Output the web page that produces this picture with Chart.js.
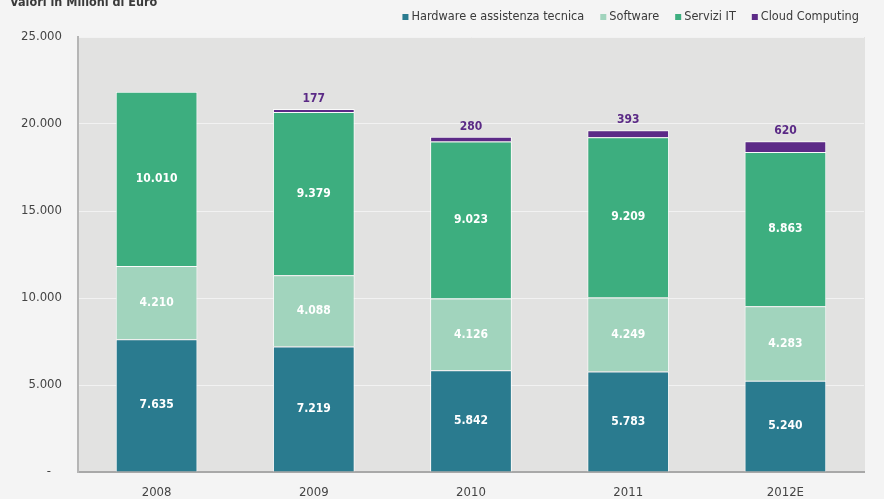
<!DOCTYPE html>
<html>
<head>
<meta charset="utf-8">
<script src="https://cdn.jsdelivr.net/npm/chart.js@4.4.1/dist/chart.umd.min.js"></script>
<style>
  html, body { margin: 0; padding: 0; background: #f4f4f4; }
  #wrap { width: 884px; height: 499px; }
</style>
</head>
<body>
<div id="wrap"><canvas id="itChart" width="884" height="499"></canvas></div>
<script>
// Mercato IT - valori in milioni di euro
const years = ['2008', '2009', '2010', '2011', '2012E'];
const hardware = [7635, 7219, 5842, 5783, 5240];
const software = [4210, 4088, 4126, 4249, 4283];
const serviziIT = [10010, 9379, 9023, 9209, 8863];
const cloud = [null, 177, 280, 393, 620];
const yTicks = [0, 5000, 10000, 15000, 20000, 25000];

const FONT = "'Liberation Sans Narrow', 'DejaVu Sans Condensed', 'Liberation Sans', sans-serif";

function fmt(v) {
    return v.toString().replace(/\B(?=(\d{3})+(?!\d))/g, '.');
}

// gray plot background, title and legend
const backdrop = {
    id: 'backdrop',
    beforeDraw(chart) {
        const { ctx, chartArea: a } = chart;
        ctx.save();
        ctx.fillStyle = '#f4f4f4';
        ctx.fillRect(0, 0, chart.width, chart.height);
        ctx.fillStyle = '#e2e2e1';
        ctx.fillRect(a.left, a.top, a.right - a.left + 1, a.bottom - a.top);

        ctx.fillStyle = '#3a3a3a';
        ctx.font = 'bold 12.5px ' + FONT;
        ctx.textBaseline = 'middle';
        ctx.fillText('Valori in Milioni di Euro', 10, 3);

        // legend, right aligned
        ctx.font = '12.6px ' + FONT;
        let x = 859;
        const items = chart.data.datasets.slice().reverse();
        items.forEach(ds => {
            const w = ctx.measureText(ds.label).width;
            ctx.fillStyle = '#3a3a3a';
            ctx.textAlign = 'left';
            ctx.fillText(ds.label, x - w, 17);
            ctx.fillStyle = ds.backgroundColor;
            ctx.fillRect(x - w - 9, 14, 6, 6);
            x = x - w - 9 - 16;
        });
        ctx.restore();
    }
};

// value labels inside / above the bars
const valueLabels = {
    id: 'valueLabels',
    afterDatasetsDraw(chart) {
        const { ctx } = chart;
        ctx.save();
        ctx.textAlign = 'center';
        ctx.font = 'bold 12px ' + FONT;
        chart.data.datasets.forEach((ds, i) => {
            const meta = chart.getDatasetMeta(i);
            meta.data.forEach((bar, j) => {
                const v = ds.data[j];
                if (v == null) return;
                if (i < 3) {
                    ctx.fillStyle = '#ffffff';
                    ctx.textBaseline = 'middle';
                    ctx.fillText(fmt(v), bar.x, (bar.y + bar.base) / 2);
                } else {
                    ctx.fillStyle = '#5b2a86';
                    ctx.textBaseline = 'bottom';
                    ctx.fillText(fmt(v), bar.x, bar.y - 4);
                }
            });
        });
        ctx.restore();
    }
};

new Chart(document.getElementById('itChart'), {
    type: 'bar',
    data: {
        labels: years,
        datasets: [
            { label: 'Hardware e assistenza tecnica', data: hardware, backgroundColor: '#2a7b8f' },
            { label: 'Software', data: software, backgroundColor: '#a1d4bd' },
            { label: 'Servizi IT', data: serviziIT, backgroundColor: '#3dae7f' },
            { label: 'Cloud Computing', data: cloud, backgroundColor: '#5c2a87' }
        ].map(d => Object.assign(d, {
            borderColor: 'rgba(255,255,255,0.85)',
            borderWidth: 1,
            barPercentage: 0.52,
            categoryPercentage: 1
        }))
    },
    options: {
        responsive: false,
        animation: false,
        layout: { padding: { top: 37, right: 20, left: 0, bottom: 0 } },
        plugins: {
            legend: { display: false },
            tooltip: { enabled: false }
        },
        scales: {
            x: {
                stacked: true,
                grid: { display: false },
                border: { color: '#a8a8a8', width: 2 },
                ticks: { color: '#444', font: { family: FONT, size: 13 }, padding: 5 },
                afterFit(scale) { scale.height = 27; }
            },
            y: {
                stacked: true,
                min: 0,
                max: 25000,
                afterBuildTicks(scale) { scale.ticks = yTicks.map(v => ({ value: v })); },
                grid: { color: '#f2f2f2', lineWidth: 1, drawTicks: false },
                border: { color: '#b5b5b5', width: 2 },
                ticks: {
                    color: '#444',
                    padding: 16,
                    font: { family: FONT, size: 13 },
                    callback: v => v === 0 ? '-   ' : fmt(v)
                },
                afterFit(scale) { scale.width = 78; }
            }
        }
    },
    plugins: [backdrop, valueLabels]
});
</script>
</body>
</html>
